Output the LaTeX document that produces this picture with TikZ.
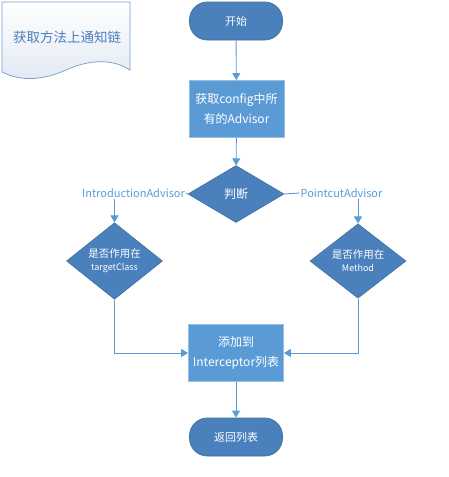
\documentclass[tikz,border=0pt]{standalone}
\usepackage{fontspec}
\setmainfont{Noto Sans CJK SC}
\usetikzlibrary{shapes.geometric,arrows.meta}
\definecolor{darkblue}{RGB}{74,128,188}
\definecolor{darkedge}{RGB}{65,113,156}
\definecolor{boxblue}{RGB}{91,155,213}
\definecolor{boxedge}{RGB}{150,190,228}
\definecolor{linkblue}{RGB}{91,155,213}
\definecolor{docedge}{RGB}{120,155,205}
\definecolor{doctext}{RGB}{75,125,190}
\definecolor{docfill}{RGB}{226,233,244}
\tikzset{
  pill/.style={rectangle, rounded corners=18pt, fill=darkblue, draw=darkedge, line width=0.8pt,
    minimum width=93pt, minimum height=38pt, text=white, font=\fontsize{11}{13}\selectfont, inner sep=0pt},
  procbox/.style={rectangle, fill=boxblue, draw=boxedge, line width=0.8pt, minimum width=95pt,
    minimum height=57pt, text=white, align=center, font=\fontsize{12}{20}\selectfont, inner sep=0pt},
  decide/.style={diamond, fill=darkblue, draw=darkedge, line width=0.6pt, minimum width=96pt,
    minimum height=57pt, inner sep=0pt, text=white, align=center},
  lbl/.style={text=linkblue, font=\fontsize{11}{12}\selectfont, inner sep=1pt},
  conn/.style={draw=linkblue, line width=0.9pt},
  arr/.style={conn, -{Triangle[length=7pt,width=8pt]}},
}
\begin{document}
\begin{tikzpicture}[x=1pt,y=-1pt]
\useasboundingbox (0,0) rectangle (448,477);
% document shape
\shade[top color=white, bottom color=docfill, draw=docedge, line width=0.7pt]
  (2,2) -- (130,2) -- (130,70)
  .. controls (112,58) and (88,60) .. (66,70)
  .. controls (44,80) and (22,82) .. (2,72) -- cycle;
\node[text=doctext, font=\fontsize{13.5}{15}\selectfont] (doc) at (67,37) {获取方法上通知链};

\node[pill] (start) at (236,21) {开始};
\node[procbox] (get) at (236.5,109) {获取config中所\\有的Advisor};
\node[decide, font=\fontsize{12}{14}\selectfont] (judge) at (236,194) {判断};
\node[lbl] (intro) at (133.5,193) {IntroductionAdvisor};
\node[lbl] (point) at (341.5,193) {PointcutAdvisor};
\node[decide, font=\fontsize{10.5}{13}\selectfont] (dl) at (114.5,261) {是否作用在\\{\fontsize{9}{11}\selectfont targetClass}};
\node[decide, font=\fontsize{10.5}{13}\selectfont] (dr) at (358,261) {是否作用在\\{\fontsize{9}{11}\selectfont Method}};
\node[procbox] (add) at (236,353) {添加到\\Interceptor列表};
\node[pill] (stop) at (236,437) {返回列表};

\draw[arr] (start) -- (get);
\draw[arr] (get) -- (judge);
\draw[conn] (judge.west) -- (intro.east);
\draw[conn] (judge.east) -- (point.west);
\draw[arr] (intro.south -| dl.north) -- (dl.north);
\draw[arr] (point.south -| dr.north) -- (dr.north);
\draw[arr] (dl.south) |- (add.west);
\draw[arr] (dr.south) |- (add.east);
\draw[arr] (add) -- (stop);
\end{tikzpicture}
\end{document}
